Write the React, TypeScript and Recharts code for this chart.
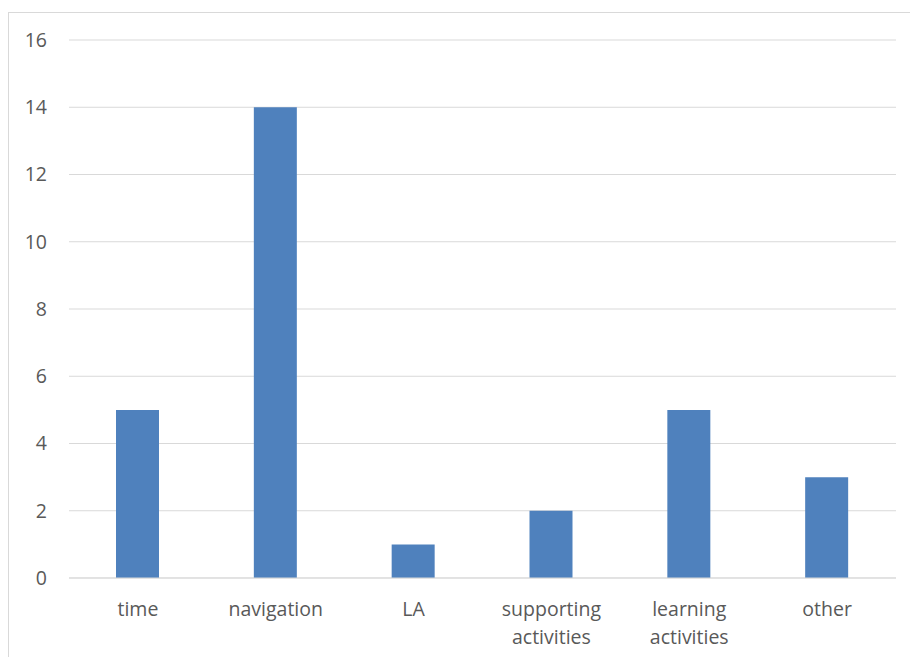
import { BarChart, Bar, XAxis, YAxis, CartesianGrid } from "recharts";

const categories = ["time", "navigation", "LA", "supporting activities", "learning activities", "other"];
const counts = [5, 14, 1, 2, 5, 3];
const yTicks = [0, 2, 4, 6, 8, 10, 12, 14, 16];

const data = categories.map((name, i) => ({ name, count: counts[i] }));

const FONT = "'Open Sans', 'Noto Sans', sans-serif";
const TEXT = "#595959";

function CategoryTick({ x, y, payload }: any) {
  const words = String(payload.value).split(" ");
  return (
    <text x={x} y={y} textAnchor="middle" fill={TEXT} fontSize={19.5} fontFamily={FONT}>
      {words.map((w: string, i: number) => (
        <tspan key={i} x={x} dy={i === 0 ? 30 : 28}>
          {w}
        </tspan>
      ))}
    </text>
  );
}

export default function App() {
  return (
    <div style={{ position: "absolute", left: 0, top: 0, width: 910, height: 657, overflow: "hidden", background: "#fff" }}>
      <div
        style={{
          position: "absolute",
          left: 8,
          top: 12,
          width: 920,
          height: 680,
          border: "1px solid #d9d9d9",
        }}
      />
      <div style={{ position: "absolute", left: 0, top: 0 }}>
        <BarChart
          width={910}
          height={657}
          data={data}
          margin={{ top: 40, right: 14, left: 9, bottom: 0 }}
          barSize={43}
        >
          <CartesianGrid vertical={false} stroke="#d9d9d9" />
          <XAxis
            dataKey="name"
            axisLine={{ stroke: "#d9d9d9" }}
            tickLine={false}
            interval={0}
            height={79}
            tick={<CategoryTick />}
          />
          <YAxis
            domain={[0, 16]}
            ticks={yTicks}
            width={60}
            axisLine={false}
            tickLine={false}
            tickSize={0}
            tickMargin={22}
            tick={{ fill: TEXT, fontSize: 19.5, fontFamily: FONT }}
          />
          <Bar dataKey="count" fill="#4f81bd" isAnimationActive={false} />
        </BarChart>
      </div>
    </div>
  );
}
